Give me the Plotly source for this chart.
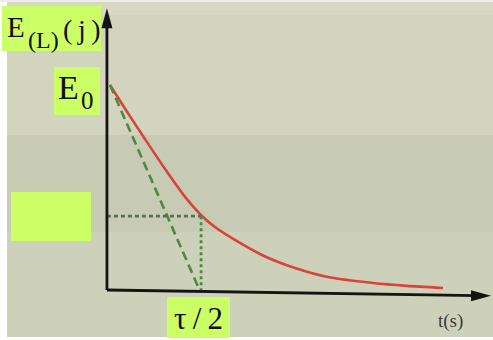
import plotly.graph_objects as go

# ---- data (t in units of tau, E in units of E0) ----
t_curve = [0.0, 0.083, 0.194, 0.306, 0.417, 0.511, 0.583, 0.694, 0.844, 1.028, 1.211, 1.461, 1.65, 1.85]
E_curve = [1.0, 0.885, 0.737, 0.59, 0.454, 0.361, 0.307, 0.244, 0.171, 0.107, 0.063, 0.034, 0.02, 0.01]

t_tangent = [0.0, 0.49]
E_tangent = [1.0, 0.015]

t_half = 0.506
E_half = 0.36

axis_x0 = -0.017
x_axis_end = 2.117
x_axis_end_y = -0.028
y_axis_end = 1.375

W, H = 493, 340
# pixel mapping: x = 110 + 180 t ; y = 290 - 205 E
x_range = [-110 / 180, (W - 110) / 180]
y_range = [(290 - H) / 205, 290 / 205]

fig = go.Figure()

# red energy curve
fig.add_trace(go.Scatter(x=t_curve, y=E_curve, mode="lines",
                         line=dict(color="#d8443a", width=2.6, shape="spline", smoothing=0.6),
                         hoverinfo="skip"))
# tangent (dashed)
fig.add_trace(go.Scatter(x=t_tangent, y=E_tangent, mode="lines",
                         line=dict(color="#4c8a3c", width=2.6, dash="9px,5px"),
                         hoverinfo="skip"))
# dotted guides
fig.add_trace(go.Scatter(x=[axis_x0, t_half], y=[E_half, E_half], mode="lines",
                         line=dict(color="#56704f", width=2.8, dash="4px,3px"),
                         hoverinfo="skip"))
fig.add_trace(go.Scatter(x=[t_half, t_half], y=[E_half, 0], mode="lines",
                         line=dict(color="#4a8a3c", width=2.8, dash="3px,3px"),
                         hoverinfo="skip"))
# axes lines
fig.add_trace(go.Scatter(x=[axis_x0, axis_x0], y=[0, y_axis_end - 0.06], mode="lines",
                         line=dict(color="#141414", width=2.8), hoverinfo="skip"))
fig.add_trace(go.Scatter(x=[axis_x0, x_axis_end - 0.08], y=[0, x_axis_end_y + 0.001], mode="lines",
                         line=dict(color="#141414", width=2.8), hoverinfo="skip"))

def px(x):
    return x / W

def py(y):
    return 1 - y / H

shapes = []
# background bands
bands = [(0, 15, "#d7d8c4"), (15, 135, "#d2d4bd"), (135, 232, "#c7cbb3"), (232, 340, "#ced1ba")]
for y0, y1, c in bands:
    shapes.append(dict(type="rect", xref="paper", yref="paper", x0=0, x1=1,
                       y0=py(y1), y1=py(y0), fillcolor=c, line=dict(width=0), layer="below"))
# white scan borders
shapes.append(dict(type="rect", xref="paper", yref="paper", x0=0, x1=px(7), y0=0, y1=1,
                   fillcolor="white", line=dict(width=0), layer="below"))
shapes.append(dict(type="rect", xref="paper", yref="paper", x0=0, x1=1, y0=0, y1=py(337),
                   fillcolor="white", line=dict(width=0), layer="below"))
shapes.append(dict(type="rect", xref="paper", yref="paper", x0=0, x1=1, y0=py(2), y1=1,
                   fillcolor="#eceee4", line=dict(width=0), layer="below"))
# green label boxes
green = "#ccff66"
for x0, x1, y0, y1 in [(2, 101, 6, 51), (54, 100, 67, 115), (11, 91, 192, 241), (167, 230, 297, 338)]:
    shapes.append(dict(type="rect", xref="paper", yref="paper", x0=px(x0), x1=px(x1),
                       y0=py(y1), y1=py(y0), fillcolor=green, line=dict(width=0), layer="above"))
# arrowheads (pixel-sized, anchored on axis tips)
shapes.append(dict(type="path", xref="x", yref="y", xsizemode="pixel", ysizemode="pixel",
                   xanchor=axis_x0, yanchor=y_axis_end,
                   path="M0,0 L-5.5,-20 L5.5,-20 Z", fillcolor="#141414", line=dict(width=0)))
shapes.append(dict(type="path", xref="x", yref="y", xsizemode="pixel", ysizemode="pixel",
                   xanchor=x_axis_end, yanchor=x_axis_end_y,
                   path="M0,0 L-20,5.5 L-20,-5.5 Z", fillcolor="#141414", line=dict(width=0)))

serif = "Liberation Serif, Times New Roman, Times, serif"

def label(x, y, text, size, color="#111", anchor="left"):
    return dict(x=px(x), y=py(y), xref="paper", yref="paper", xanchor=anchor, yanchor="middle",
                text=text, showarrow=False, font=dict(family=serif, size=size, color=color))

annotations = [
    label(5, 27, "E", 29),
    label(26, 40, "(L)", 24),
    label(61, 29, "(\u2009j\u2009)", 28),
    label(56, 88, "E", 34),
    label(78.5, 100, "0", 25),
    label(198.5, 318, "τ\u2009/\u20092", 31, anchor="center"),
    label(450.5, 321, "t(s)", 19, color="#3a3a3a", anchor="center"),
]

fig.update_layout(
    width=W, height=H,
    margin=dict(l=0, r=0, t=0, b=0),
    paper_bgcolor="#d0d3bb",
    plot_bgcolor="rgba(0,0,0,0)",
    showlegend=False,
    shapes=shapes,
    annotations=annotations,
    xaxis=dict(range=x_range, visible=False, fixedrange=True),
    yaxis=dict(range=y_range, visible=False, fixedrange=True),
)

fig.write_html("out.html", config={"displayModeBar": False})
